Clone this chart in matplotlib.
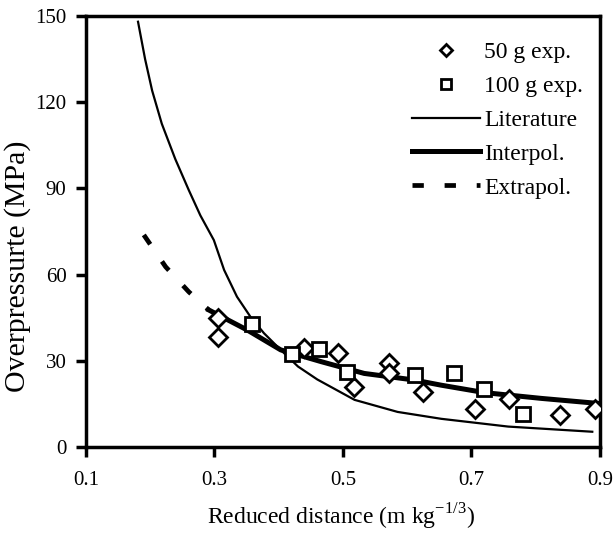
import matplotlib
matplotlib.use("Agg")
import matplotlib.pyplot as plt

plt.rcParams['font.family'] = ['Liberation Serif', 'DejaVu Serif']
plt.rcParams['mathtext.fontset'] = 'custom'
plt.rcParams['mathtext.rm'] = 'Liberation Serif'

# 50 g experiments
x50 = [0.305, 0.305, 0.439, 0.492, 0.517, 0.572, 0.572, 0.625, 0.705, 0.758, 0.838, 0.892]
y50 = [44.9, 38.3, 34.4, 32.7, 20.9, 29.2, 25.7, 19.2, 13.2, 16.8, 11.1, 13.2]
# 100 g experiments
x100 = [0.358, 0.420, 0.463, 0.506, 0.612, 0.673, 0.719, 0.780]
y100 = [42.8, 32.4, 34.1, 26.1, 25.1, 25.7, 20.1, 11.5]
# Literature curve
xlit = [0.181, 0.192, 0.203, 0.218, 0.239, 0.260, 0.278, 0.299, 0.315, 0.335, 0.356,
        0.377, 0.403, 0.430, 0.460, 0.518, 0.585, 0.653, 0.757, 0.888]
ylit = [148.0, 135.0, 124.0, 112.5, 100.2, 89.4, 80.6, 72.0, 61.6, 52.3, 45.3,
        39.6, 33.8, 28.0, 23.5, 16.4, 12.2, 9.8, 7.1, 5.3]
# Interpolation
xint = [0.291, 0.351, 0.403, 0.466, 0.533, 0.611, 0.653, 0.721, 0.809, 0.895]
yint = [47.7, 40.7, 33.8, 29.7, 25.6, 23.3, 21.5, 18.9, 16.9, 15.2]
# Extrapolation
xext = [0.19, 0.224, 0.26, 0.291]
yext = [73.8, 62.7, 54.0, 47.7]

xticks = [0.1, 0.3, 0.5, 0.7, 0.9]
yticks = [0, 30, 60, 90, 120, 150]

fig = plt.figure(figsize=(6.15, 5.33), dpi=100)
ax = fig.add_axes([0.1398, 0.1614, 0.8358, 0.8086])

ax.plot(x50, y50, linestyle='none', marker='D', markersize=9, markerfacecolor='white',
        markeredgecolor='black', markeredgewidth=2, label='50 g exp.', zorder=4)
ax.plot(x100, y100, linestyle='none', marker='s', markersize=10.5, markerfacecolor='white',
        markeredgecolor='black', markeredgewidth=2, label='100 g exp.', zorder=4)
ax.plot(xlit, ylit, color='black', linewidth=1.6, label='Literature', zorder=3)
ax.plot(xint, yint, color='black', linewidth=3.6, label='Interpol.', zorder=3)
ax.plot(xext, yext, color='black', linewidth=3.4, linestyle=(0, (2.4, 4.4)), label='Extrapol.', zorder=3)

ax.set_xlim(0.1, 0.9)
ax.set_ylim(0, 150)
ax.set_xticks(xticks)
ax.set_xticklabels([str(t) for t in xticks])
ax.set_yticks(yticks)
ax.set_yticklabels([str(t) for t in yticks])

for s in ax.spines.values():
    s.set_linewidth(2.5)
ax.tick_params(direction='out', length=7, width=2.5, labelsize=15)
ax.tick_params(axis='x', pad=10)
ax.tick_params(axis='y', pad=7)

ax.set_xlabel('Reduced distance (m kg$^{\\mathregular{-1/3}}$)', fontsize=17)
ax.xaxis.set_label_coords(0.496, -0.128)
ax.set_ylabel('Overpressurte (MPa)', fontsize=21.5, va='center')
ax.yaxis.set_label_coords(-0.134, 0.42)

leg = ax.legend(loc='upper right', frameon=False, fontsize=17, markerscale=0.7,
                handlelength=2.9, handletextpad=0.15, labelspacing=0.52,
                borderaxespad=0.0, bbox_to_anchor=(0.985, 0.962))

fig.savefig('out.png', dpi=100)
